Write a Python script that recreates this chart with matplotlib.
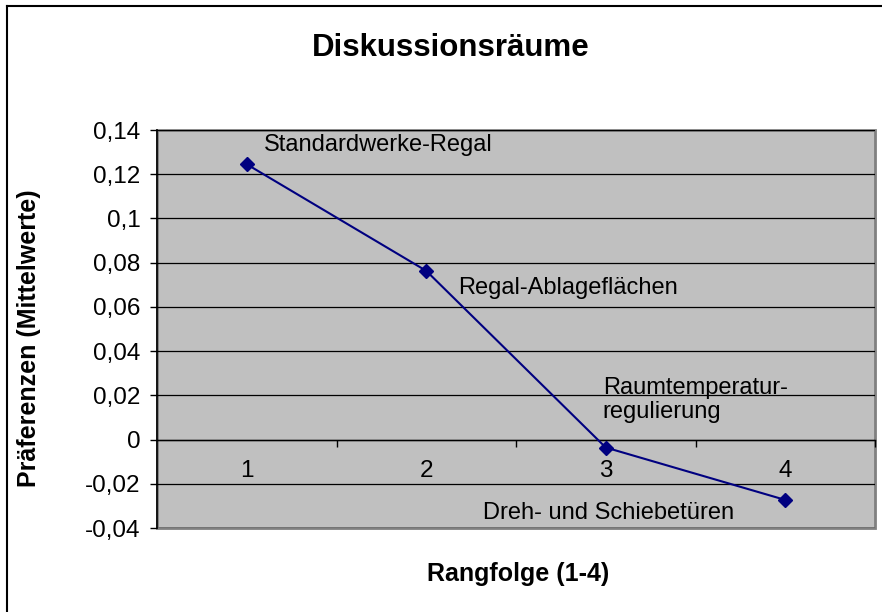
import matplotlib
matplotlib.use('Agg')
import matplotlib.pyplot as plt
from matplotlib.lines import Line2D
from matplotlib.patches import Rectangle

# ---- data ----
ranks = [1, 2, 3, 4]
values = [0.1245, 0.0763, -0.0036, -0.0273]
point_labels = ['Standardwerke-Regal', 'Regal-Ablageflächen',
                'Raumtemperatur-\nregulierung', 'Dreh- und Schiebetüren']
yticks = [-0.04, -0.02, 0.0, 0.02, 0.04, 0.06, 0.08, 0.1, 0.12, 0.14]
ytick_labels = ['-0,04', '-0,02', '0', '0,02', '0,04', '0,06', '0,08', '0,1', '0,12', '0,14']
xtick_labels = ['1', '2', '3', '4']
title = 'Diskussionsräume'
xlabel = 'Rangfolge (1-4)'
ylabel = 'Präferenzen (Mittelwerte)'

plt.rcParams['font.family'] = ['Liberation Sans', 'DejaVu Sans']

W, H = 882, 612
fig = plt.figure(figsize=(W / 100, H / 100), dpi=100)
fig.patch.set_facecolor('white')

ax = fig.add_axes([157 / W, 84 / H, 718 / W, 398 / H])
ax.set_facecolor('#C0C0C0')
ax.set_xlim(0.5, 4.5)
ax.set_ylim(-0.04, 0.14)

# grid
ax.set_yticks(yticks)
ax.set_yticklabels(ytick_labels, fontsize=17.5)
ax.yaxis.grid(True, color='black', lw=0.9)
ax.set_axisbelow(True)
ax.tick_params(axis='y', direction='out', length=5, width=1, pad=7)

# x axis crossing at 0
ax.spines['bottom'].set_position(('data', 0))
ax.spines['bottom'].set_color('black')
ax.spines['bottom'].set_linewidth(1)
ax.spines['left'].set_color('black')
ax.spines['left'].set_linewidth(1.2)
for s in ['top', 'right']:
    ax.spines[s].set_visible(False)
ax.add_patch(Rectangle((0, 0), 1, 1, transform=ax.transAxes, fill=False,
                       edgecolor='#808080', lw=2, clip_on=False, zorder=0.5))

ax.set_xticks(ranks)
ax.set_xticklabels(xtick_labels, fontsize=17.5)
ax.set_xticks([1.5, 2.5, 3.5, 4.5], minor=True)
ax.tick_params(axis='x', which='major', length=0, pad=15)
ax.tick_params(axis='x', which='minor', direction='out', length=5, width=1, color='black')

ax.plot(ranks, values, color='#000080', lw=1.5, marker='D', ms=7.5,
        clip_on=False, zorder=3)

offsets = [(17, 13), (32, -23), (-3, 30), (-302, -19)]
for x, y, lab, off in zip(ranks, values, point_labels, offsets):
    ax.annotate(lab, xy=(x, y), xytext=off, textcoords='offset pixels',
                ha='left', va='baseline', fontsize=17, linespacing=1.08)

fig.text(451 / W, 1 - 48 / H, title, ha='center', va='center',
         fontsize=22.5, fontweight='bold')
fig.text(518 / W, 1 - 574 / H, xlabel, ha='center', va='center',
         fontsize=18, fontweight='bold')
fig.text(29 / W, 1 - 338 / H, ylabel, ha='center', va='center',
         fontsize=18, fontweight='bold', rotation=90)

# outer chart frame (top and left visible)
fig.add_artist(Line2D([7 / W, 7 / W], [0, 1 - 6 / H], transform=fig.transFigure,
                      color='black', lw=1.5))
fig.add_artist(Line2D([7 / W, 1], [1 - 6 / H, 1 - 6 / H], transform=fig.transFigure,
                      color='black', lw=1.5))

fig.savefig('out.png', dpi=100)
